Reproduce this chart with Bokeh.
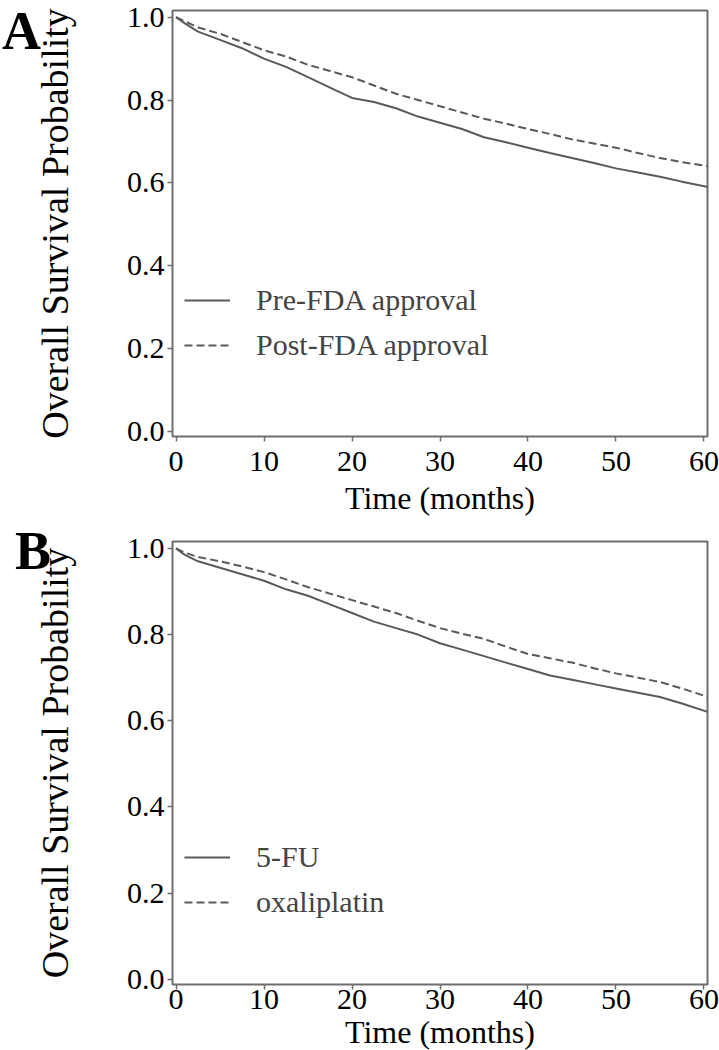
from bokeh.plotting import figure
from bokeh.layouts import column
from bokeh.models import Div, Legend, LegendItem, FixedTicker, PrintfTickFormatter, Range1d
from bokeh.embed import file_html
from bokeh.resources import INLINE

# ---- data ----
months = [0, 1, 2.5, 5, 7.5, 10, 12.5, 15, 17.5, 20, 22.5, 25, 27.5, 30, 32.5, 35,
          37.5, 40, 42.5, 45, 47.5, 50, 52.5, 55, 57.5, 60.5]
pre_fda = [1.0, 0.985, 0.965, 0.945, 0.925, 0.900, 0.880, 0.855, 0.830, 0.805, 0.795,
           0.780, 0.760, 0.745, 0.730, 0.710, 0.698, 0.685, 0.672, 0.660, 0.648, 0.635,
           0.625, 0.615, 0.603, 0.590]
post_fda = [1.0, 0.990, 0.975, 0.960, 0.940, 0.920, 0.905, 0.885, 0.870, 0.855, 0.835,
            0.815, 0.800, 0.785, 0.770, 0.755, 0.743, 0.730, 0.718, 0.705, 0.695, 0.685,
            0.672, 0.660, 0.650, 0.640]
fu5 = [1.0, 0.985, 0.970, 0.955, 0.940, 0.925, 0.905, 0.890, 0.870, 0.850, 0.830, 0.815,
       0.800, 0.780, 0.765, 0.750, 0.735, 0.720, 0.705, 0.695, 0.685, 0.675, 0.665, 0.655,
       0.640, 0.620]
oxaliplatin = [1.0, 0.990, 0.980, 0.970, 0.958, 0.945, 0.928, 0.910, 0.895, 0.880, 0.865,
               0.850, 0.832, 0.815, 0.802, 0.790, 0.772, 0.755, 0.745, 0.735, 0.722, 0.710,
               0.700, 0.690, 0.675, 0.655]
x_ticks = [0, 10, 20, 30, 40, 50, 60]
y_ticks = [0.0, 0.2, 0.4, 0.6, 0.8, 1.0]

panels = [
    ("A", ["Pre-FDA approval", "Post-FDA approval"], [pre_fda, post_fda]),
    ("B", ["5-FU", "oxaliplatin"], [fu5, oxaliplatin]),
]

FONT = "Liberation Serif"
GRAY = "#5a5a5a"
FRAME = "#6e6e6e"

geo = [
    dict(top=10, fh=426, bottom=84, lstand=10, tstand=6, dx=2, leg=71),
    dict(top=21, fh=443, bottom=66, lstand=0, tstand=2, dx=15, leg=62),
]

items = []
for (letter, names, series), g in zip(panels, geo):
    p = figure(frame_width=535, frame_height=g["fh"], min_border_left=172,
               min_border_right=12, min_border_top=g["top"], min_border_bottom=g["bottom"],
               output_backend="svg", toolbar_location=None,
               x_range=Range1d(-0.4, 60.4), y_range=Range1d(-0.012, 1.016))
    p.grid.visible = False
    p.outline_line_color = FRAME
    p.outline_line_width = 2
    p.background_fill_color = "white"
    p.border_fill_color = None
    for ax in (p.xaxis[0], p.yaxis[0]):
        ax.axis_line_color = None
        ax.major_tick_line_color = FRAME
        ax.major_tick_line_width = 1.5
        ax.major_tick_out = 5
        ax.major_tick_in = 0
        ax.minor_tick_line_color = None
        ax.major_label_text_font = FONT
        ax.major_label_text_font_size = "30px"
        ax.major_label_text_color = "black"
        ax.axis_label_text_font = FONT
        ax.axis_label_text_font_style = "normal"
        ax.axis_label_text_color = "black"
    p.xaxis.axis_label_text_font_size = "32px"
    p.yaxis.axis_label_text_font_size = "38px"
    p.xaxis.ticker = FixedTicker(ticks=x_ticks)
    p.yaxis.ticker = FixedTicker(ticks=y_ticks)
    p.yaxis.formatter = PrintfTickFormatter(format="%.1f")
    p.xaxis.axis_label = "Time (months)"
    p.yaxis.axis_label = "Overall Survival Probability"
    p.xaxis.major_label_standoff = g["lstand"]
    p.xaxis.axis_label_standoff = g["tstand"]
    p.yaxis.major_label_standoff = 3
    p.yaxis.axis_label_standoff = 48

    r1 = p.line(months, series[0], line_color=GRAY, line_width=2)
    r2 = p.line(months, series[1], line_color=GRAY, line_width=2, line_dash="8 4")

    legend = Legend(items=[LegendItem(label=names[0], renderers=[r1]),
                           LegendItem(label=names[1], renderers=[r2])],
                    location=(12, g["leg"]), border_line_color=None,
                    background_fill_alpha=0, label_text_font=FONT,
                    label_text_font_size="30px", glyph_width=46, glyph_height=40,
                    label_height=40, spacing=5, label_standoff=26, padding=0, margin=0)
    p.add_layout(legend, "center")

    letter_div = Div(
        text=(f'<div style="font-family:\'Liberation Serif\';font-weight:bold;'
              f'font-size:54px;line-height:normal;color:black;'
              f'margin-top:0px;margin-left:{g["dx"]}px;">{letter}</div>'),
        width=80, height=0, margin=0,
        styles={"overflow": "visible", "z-index": "10"})
    items.extend([letter_div, p])

layout = column(*items, spacing=0)
open("out.html", "w").write(file_html(layout, INLINE))
